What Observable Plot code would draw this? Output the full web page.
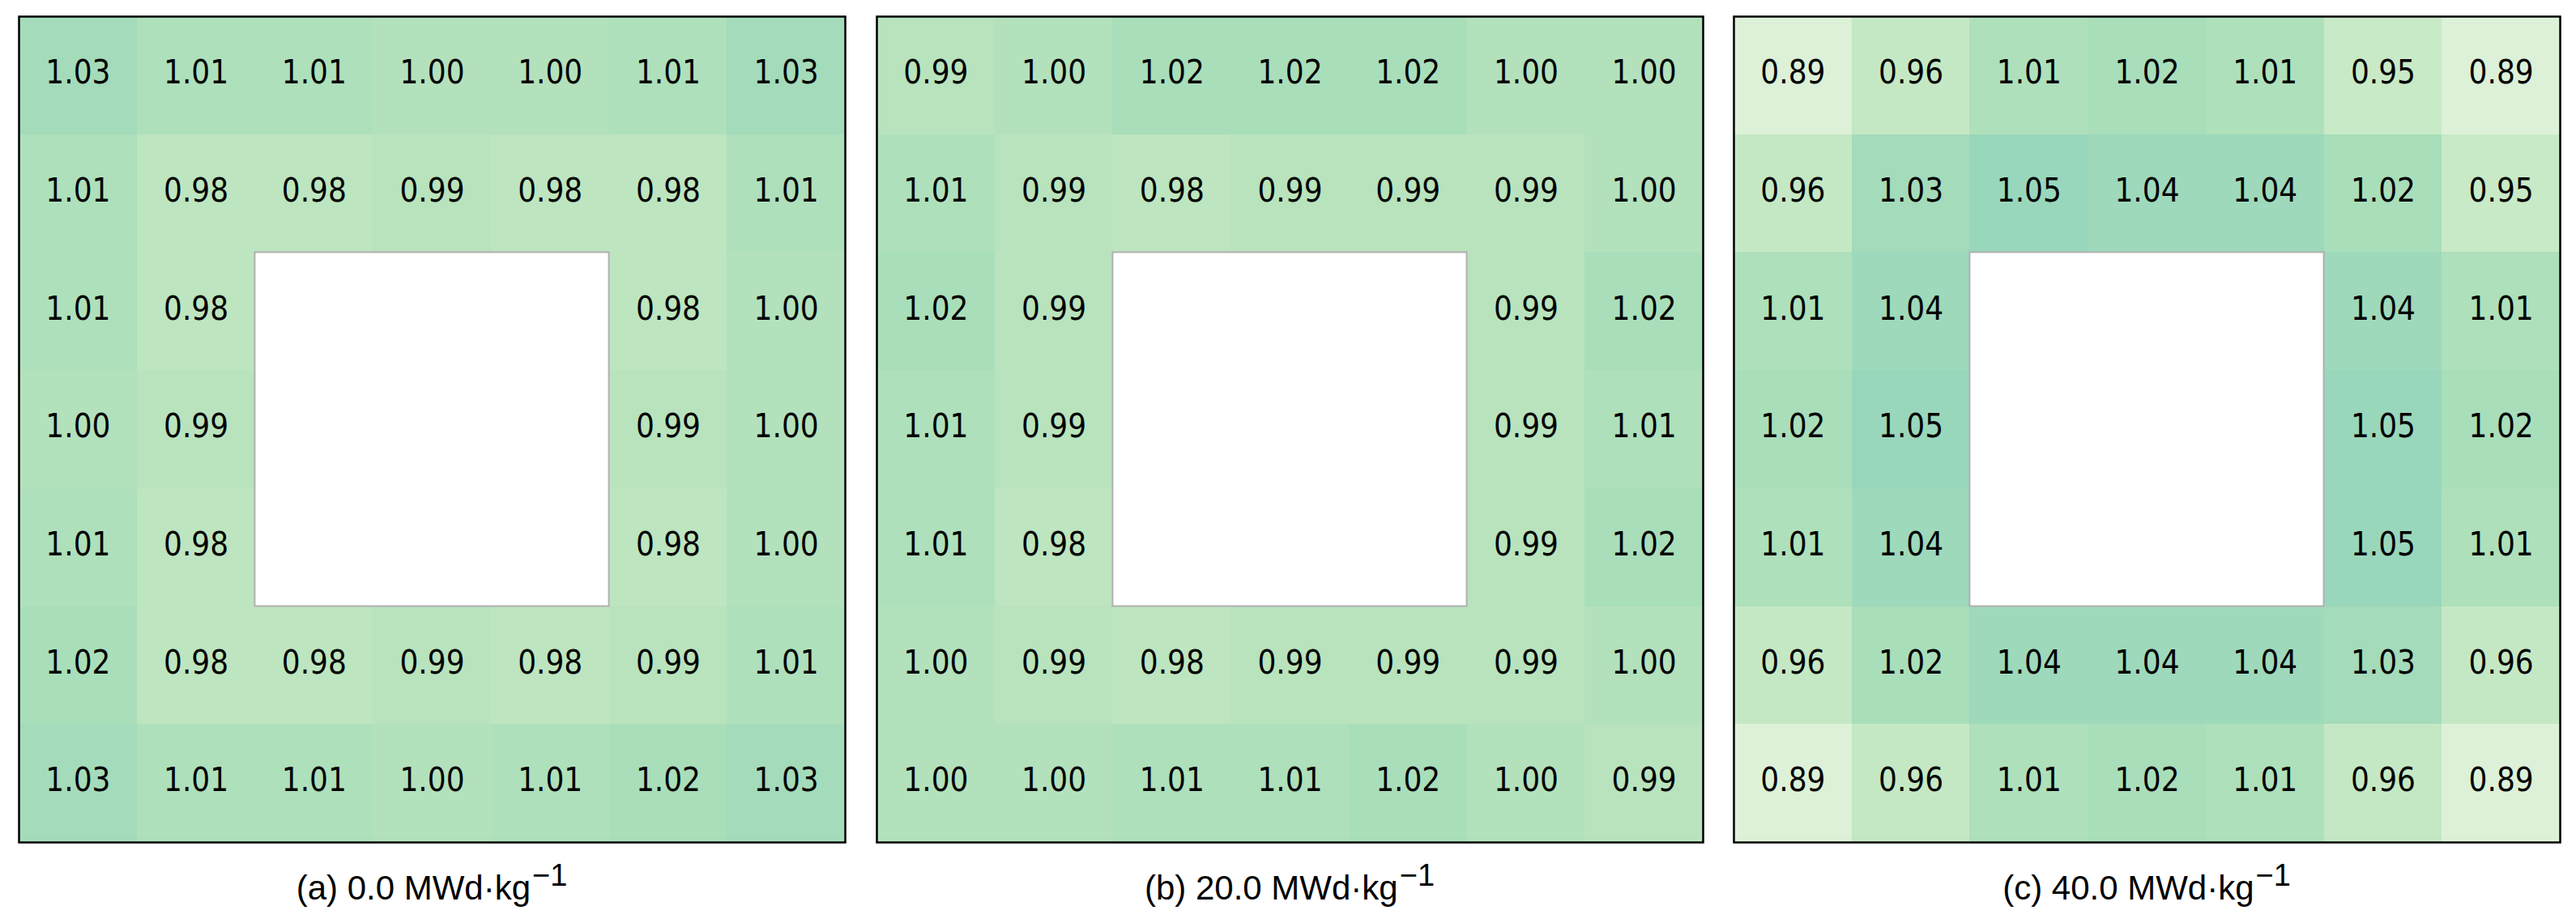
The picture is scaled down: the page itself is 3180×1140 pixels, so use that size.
<!DOCTYPE html>
<html>
<head>
<meta charset="utf-8">
<script src="https://cdn.jsdelivr.net/npm/d3@7"></script>
<script src="https://cdn.jsdelivr.net/npm/@observablehq/plot@0.6"></script>
<style>
  body { margin: 0; background: #fff; }
  #wrap { position: relative; width: 3180px; height: 1140px; overflow: hidden; }
  .panel { position: absolute; top: 0; }
  .cap { position: absolute; top: 1072px; width: 1020px; text-align: center;
         font-family: 'Liberation Sans', Arial, sans-serif; font-size: 42px; line-height: 50px; color: #000; }
  .cap .sup { font-size: 38px; position: relative; top: -17px; margin-left: 2px; }
</style>
</head>
<body>
<div id="wrap"></div>
<script>
// ---- data (null = hole) ----
const panelLetters = ["a", "b", "c"];
const burnups = ["0.0", "20.0", "40.0"];
const unitText = "MWd·kg";
const unitSup = "−1";

const panelA = [
  [1.03, 1.01, 1.01, 1.00, 1.00, 1.01, 1.03],
  [1.01, 0.98, 0.98, 0.99, 0.98, 0.98, 1.01],
  [1.01, 0.98, null, null, null, 0.98, 1.00],
  [1.00, 0.99, null, null, null, 0.99, 1.00],
  [1.01, 0.98, null, null, null, 0.98, 1.00],
  [1.02, 0.98, 0.98, 0.99, 0.98, 0.99, 1.01],
  [1.03, 1.01, 1.01, 1.00, 1.01, 1.02, 1.03]
];
const panelB = [
  [0.99, 1.00, 1.02, 1.02, 1.02, 1.00, 1.00],
  [1.01, 0.99, 0.98, 0.99, 0.99, 0.99, 1.00],
  [1.02, 0.99, null, null, null, 0.99, 1.02],
  [1.01, 0.99, null, null, null, 0.99, 1.01],
  [1.01, 0.98, null, null, null, 0.99, 1.02],
  [1.00, 0.99, 0.98, 0.99, 0.99, 0.99, 1.00],
  [1.00, 1.00, 1.01, 1.01, 1.02, 1.00, 0.99]
];
const panelC = [
  [0.89, 0.96, 1.01, 1.02, 1.01, 0.95, 0.89],
  [0.96, 1.03, 1.05, 1.04, 1.04, 1.02, 0.95],
  [1.01, 1.04, null, null, null, 1.04, 1.01],
  [1.02, 1.05, null, null, null, 1.05, 1.02],
  [1.01, 1.04, null, null, null, 1.05, 1.01],
  [0.96, 1.02, 1.04, 1.04, 1.04, 1.03, 0.96],
  [0.89, 0.96, 1.01, 1.02, 1.01, 0.96, 0.89]
];
const holeRange = [2, 5]; // grid indices of the empty centre block
const gridSize = 7;
const colorDomain = [0.8, 1.4];

// ---- layout ----
const panels = [panelA, panelB, panelC];
const lefts = [23, 1082, 2140];
const inner = 1020;
const m = 3;
const topY = 20;

const wrap = document.getElementById("wrap");

panels.forEach((grid, i) => {
  const cells = [];
  grid.forEach((row, r) => row.forEach((v, c) => {
    if (v != null) cells.push({r, c, v});
  }));
  const hole = [{a: holeRange[0], b: holeRange[1]}];

  const chart = Plot.plot({
    width: inner + 2 * m,
    height: inner + 2 * m,
    marginTop: m, marginBottom: m, marginLeft: m, marginRight: m,
    x: {type: "linear", domain: [0, gridSize], axis: null},
    y: {type: "linear", domain: [0, gridSize], reverse: true, axis: null},
    color: {type: "linear", scheme: "gnbu", domain: colorDomain},
    style: {background: "transparent"},
    marks: [
      Plot.rect(cells, {
        x1: d => d.c, x2: d => d.c + 1,
        y1: d => d.r, y2: d => d.r + 1,
        fill: "v", shapeRendering: "crispEdges"
      }),
      Plot.rect(hole, {
        x1: "a", x2: "b", y1: "a", y2: "b",
        fill: "white", stroke: "#b0b0b0", strokeWidth: 2
      }),
      Plot.text(cells, {
        x: d => d.c + 0.5, y: d => d.r + 0.5,
        text: d => d.v.toFixed(2),
        fontSize: 40, fill: "black",
        fontFamily: "'Liberation Sans Narrow', 'DejaVu Sans Condensed', sans-serif",
        dy: -3
      }),
      Plot.frame({stroke: "black", strokeWidth: 2.5})
    ]
  });
  chart.classList.add("panel");
  chart.style.left = (lefts[i] - m) + "px";
  chart.style.top = (topY - m) + "px";
  wrap.appendChild(chart);

  const cap = document.createElement("div");
  cap.className = "cap";
  cap.style.left = lefts[i] + "px";
  cap.innerHTML = `(${panelLetters[i]}) ${burnups[i]} ${unitText}<span class="sup">${unitSup}</span>`;
  wrap.appendChild(cap);
});
</script>
</body>
</html>
